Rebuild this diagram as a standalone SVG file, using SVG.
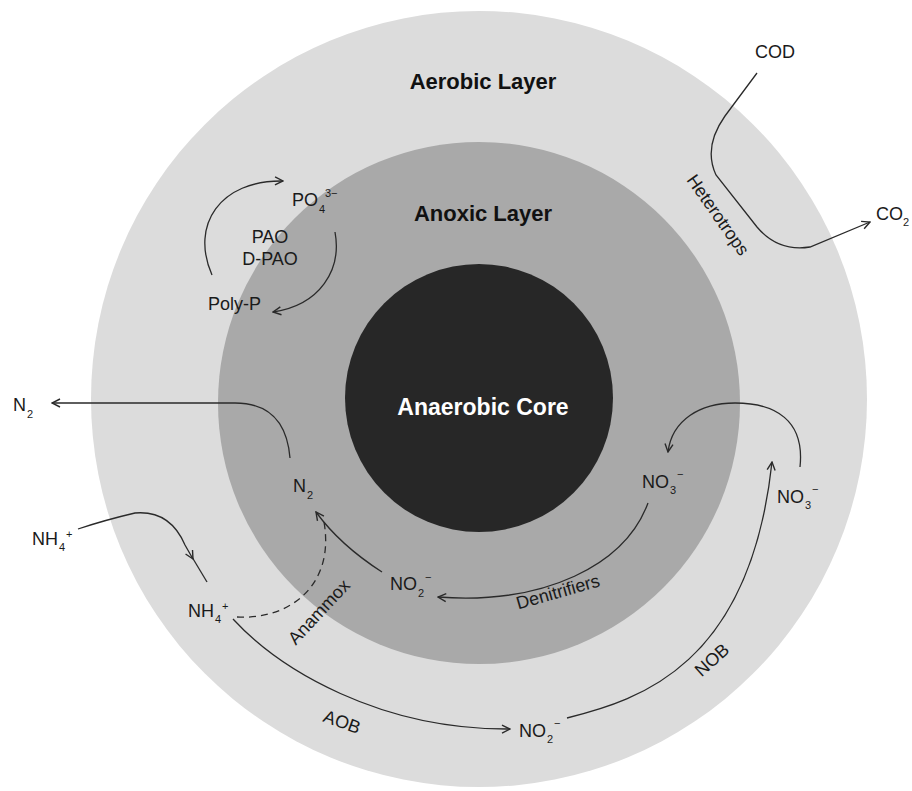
<svg xmlns="http://www.w3.org/2000/svg" width="912" height="791" viewBox="0 0 912 791">
<defs>
<marker id="ah" viewBox="0 0 10 10" refX="9" refY="5" markerWidth="10" markerHeight="10" markerUnits="userSpaceOnUse" orient="auto">
<path d="M1,1 L9,5 L1,9" fill="none" stroke="#2a2a2a" stroke-width="1.4"/>
</marker>
<style>
.lbl{font-family:"Liberation Sans",Arial,sans-serif;font-size:18px;fill:#1a1a1a}
.sub{font-family:"Liberation Sans",Arial,sans-serif;font-size:11px;fill:#1a1a1a}
.hd{font-family:"Liberation Sans",Arial,sans-serif;font-size:22px;font-weight:bold;fill:#111}
.core{font-family:"Liberation Sans",Arial,sans-serif;font-size:23px;font-weight:bold;fill:#fff}
.ln{fill:none;stroke:#2a2a2a;stroke-width:1.3}
.arr{fill:none;stroke:#2a2a2a;stroke-width:1.3;marker-end:url(#ah)}
.dash{fill:none;stroke:#2a2a2a;stroke-width:1.3;stroke-dasharray:7 5}
</style>
</defs>
<rect width="912" height="791" fill="#ffffff"/>
<g id="aerobic-layer">
<circle cx="479" cy="399" r="388" fill="#dcdcdc"/>
<text class="hd" x="483" y="89" text-anchor="middle">Aerobic Layer</text>
</g>
<g id="anoxic-layer">
<circle cx="479" cy="403" r="261" fill="#a9a9a9"/>
<text class="hd" x="483" y="221" text-anchor="middle">Anoxic Layer</text>
</g>
<g id="anaerobic-core">
<circle cx="479" cy="398" r="134" fill="#272727"/>
<text class="core" x="483" y="415" text-anchor="middle">Anaerobic Core</text>
</g>
<g id="connectors">
<path class="arr" d="M757,73 L725,116 Q703,147 716,175 L757,227 Q778,252 810,247 L870,222"/>
<path class="arr" d="M212,275 C190,225 220,180 283,181"/>
<path class="arr" d="M335,232 C342,270 320,305 273,312"/>
<path class="arr" d="M290,458 C287,422 270,403 235,403 L52,403"/>
<path class="arr" d="M78,529 Q105,520 135,513 Q170,510 185,545 L193,559"/>
<path class="ln" d="M192,557 L207,582"/>
<path class="dash" d="M237,617 C290,620 335,585 324,522"/>
<path class="arr" d="M382,572 Q340,545 316,512"/>
<path class="arr" d="M648,503 C625,565 545,605 438,597"/>
<path class="arr" d="M800,467 C805,420 775,403 735,403 C700,403 672,420 668,452"/>
<path class="arr" d="M233,619 C280,670 380,730 510,729"/>
<path class="arr" d="M567,718 C640,700 750,665 772,462"/>
</g>
<g id="cod">
<text class="lbl" x="755" y="58">COD</text>
</g>
<g id="co2">
<text class="lbl" x="876" y="220">CO</text><text class="sub" x="903" y="226">2</text>
</g>
<g id="heterotrops">
<text class="lbl" transform="translate(718,215) rotate(55)" text-anchor="middle" dy="6">Heterotrops</text>
</g>
<g id="po4">
<text class="lbl" x="292" y="206">PO</text><text class="sub" x="319" y="213">4</text><text class="sub" x="325" y="197">3−</text>
</g>
<g id="pao">
<text class="lbl" x="270" y="243" text-anchor="middle">PAO</text>
<text class="lbl" x="270" y="265" text-anchor="middle">D-PAO</text>
</g>
<g id="polyp">
<text class="lbl" x="208" y="310">Poly-P</text>
</g>
<g id="n2-out">
<text class="lbl" x="13" y="411">N</text><text class="sub" x="27" y="418">2</text>
</g>
<g id="n2-in">
<text class="lbl" x="293" y="492">N</text><text class="sub" x="307" y="499">2</text>
</g>
<g id="nh4-out">
<text class="lbl" x="32" y="545">NH</text><text class="sub" x="59" y="551">4</text><text class="sub" x="66" y="538">+</text>
</g>
<g id="nh4-in">
<text class="lbl" x="188" y="617">NH</text><text class="sub" x="215" y="623">4</text><text class="sub" x="222" y="610">+</text>
</g>
<g id="anammox">
<text class="lbl" transform="translate(319,612) rotate(-47)" text-anchor="middle" dy="6">Anammox</text>
</g>
<g id="no2-in">
<text class="lbl" x="390" y="590">NO</text><text class="sub" x="418" y="597">2</text><text class="sub" x="425" y="581">−</text>
</g>
<g id="no3-in">
<text class="lbl" x="642" y="488">NO</text><text class="sub" x="670" y="494">3</text><text class="sub" x="677" y="478">−</text>
</g>
<g id="denitrifiers">
<text class="lbl" transform="translate(558,592) rotate(-16)" text-anchor="middle" dy="6">Denitrifiers</text>
</g>
<g id="no3-out">
<text class="lbl" x="777" y="503">NO</text><text class="sub" x="805" y="509">3</text><text class="sub" x="812" y="493">−</text>
</g>
<g id="no2-out">
<text class="lbl" x="519" y="737">NO</text><text class="sub" x="547" y="743">2</text><text class="sub" x="554" y="727">−</text>
</g>
<g id="aob">
<text class="lbl" transform="translate(342,722) rotate(20)" text-anchor="middle" dy="6">AOB</text>
</g>
<g id="nob">
<text class="lbl" transform="translate(712,660) rotate(-42)" text-anchor="middle" dy="6">NOB</text>
</g>
</svg>
